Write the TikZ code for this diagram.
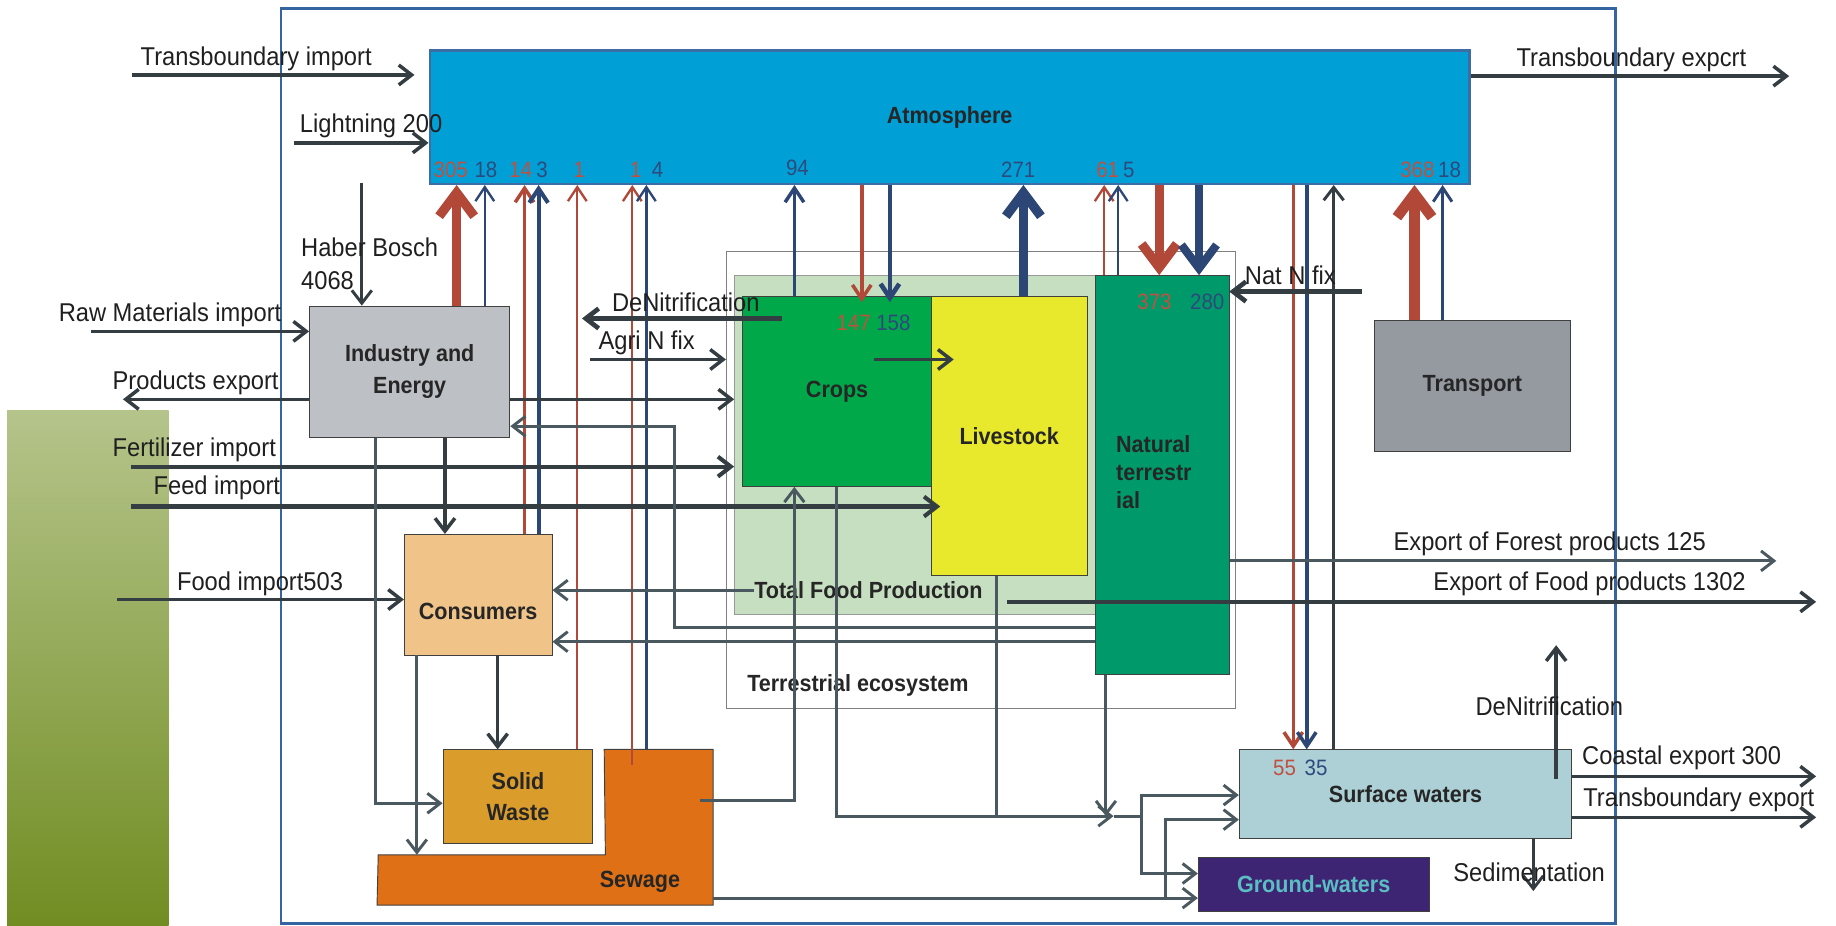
\documentclass[tikz,border=0pt]{standalone}
\usepackage{fontspec}
\setmainfont{Liberation Sans}[FakeStretch=0.92]
\usetikzlibrary{arrows.meta,positioning}

\definecolor{nred}{RGB}{178,72,56}
\definecolor{nblue}{RGB}{44,70,118}
\definecolor{ngray}{RGB}{52,62,66}
\definecolor{lgray}{RGB}{74,88,96}
\definecolor{frameblue}{RGB}{52,101,160}
\definecolor{atmfill}{RGB}{0,160,215}
\definecolor{atmline}{RGB}{60,110,165}
\definecolor{indfill}{RGB}{189,192,196}
\definecolor{consfill}{RGB}{240,195,137}
\definecolor{solidfill}{RGB}{218,157,43}
\definecolor{sewfill}{RGB}{223,112,22}
\definecolor{cropfill}{RGB}{0,168,74}
\definecolor{livefill}{RGB}{232,232,45}
\definecolor{natfill}{RGB}{0,154,106}
\definecolor{tfpfill}{RGB}{197,223,192}
\definecolor{trafill}{RGB}{149,154,161}
\definecolor{surffill}{RGB}{172,208,214}
\definecolor{gwfill}{RGB}{61,37,115}
\definecolor{gwtext}{RGB}{90,190,195}
\definecolor{numred}{RGB}{192,80,64}
\definecolor{numblue}{RGB}{46,74,125}
\definecolor{barTop}{RGB}{181,196,139}
\definecolor{barBot}{RGB}{113,141,34}

\begin{document}
\begin{tikzpicture}[x=1pt,y=-1pt,
    box/.style={draw=black!75,line width=0.8pt,inner sep=0pt,align=center,anchor=north west,
        font=\fontsize{20}{27}\selectfont\bfseries,text=black!85},
    lbl/.style={inner sep=0pt,anchor=west,font=\fontsize{22}{28}\selectfont,text=black!88},
    blbl/.style={inner sep=0pt,anchor=west,font=\fontsize{20}{24}\selectfont\bfseries,text=black!85},
    num/.style={inner sep=0pt,font=\fontsize{19}{21}\selectfont},
    flow/.style={ngray,line width=3pt,-{Straight Barb[length=11pt,width=17pt]}},
    gline/.style={lgray,line width=2.5pt},
    gflow/.style={gline,-{Straight Barb[length=11pt,width=17pt]}},
    rup/.style={nred,line width=2pt,-{Straight Barb[length=12pt,width=16pt]}},
    bup/.style={nblue,line width=2pt,-{Straight Barb[length=12pt,width=16pt]}},
    big/.style={line width=8pt,-{Straight Barb[length=20pt,width=30pt]}}]

\useasboundingbox (0,0) rectangle (1568,790);
\shade[top color=barTop,bottom color=barBot] (6,351) rectangle (144,790);
\draw[frameblue,line width=2.5pt] (240,7) rectangle (1380,788.5);

% boxes
\node[box,draw=gray,fill=white,minimum width=435pt,minimum height=391pt] (terr) at (620,214) {};
\node[box,draw=gray!80,fill=tfpfill,minimum width=308pt,minimum height=289pt] (tfp) at (627,235) {};
\node[box,fill=cropfill,minimum width=161pt,minimum height=162pt] (crops) at (634,253) {Crops};
\node[box,fill=livefill,minimum width=133pt,minimum height=238pt] (live) at (795,253) {Livestock};
\node[box,fill=natfill,minimum width=115pt,minimum height=341pt] (nat) at (935,235) {};
\node[box,fill=atmfill,draw=atmline,line width=2pt,minimum width=888pt,minimum height=114pt] (atm) at (366,42) {Atmosphere};
\node[box,fill=indfill,minimum width=171pt,minimum height=112pt] (ind) at (264,261) {Industry and\\Energy};
\node[box,fill=consfill,minimum width=126pt,minimum height=103pt,
    label={[font=\fontsize{20}{24}\selectfont\bfseries,text=black!85,yshift=-14pt]center:Consumers}] (cons) at (345,456) {};
\node[box,fill=solidfill,minimum width=128pt,minimum height=80pt] (solid) at (378,640) {Solid\\Waste};
\node[box,fill=trafill,minimum width=168pt,minimum height=112pt] (trans) at (1173,273) {Transport};
\node[box,fill=surffill,minimum width=284pt,minimum height=76pt] (surf) at (1058,640) {Surface waters};
\node[box,fill=gwfill,text=gwtext,minimum width=197pt,minimum height=46pt] (gw) at (1023,732) {Ground-waters};
\filldraw[fill=sewfill,draw=black!75,line width=0.8pt] (516,640) -- (609,640) -- (609,773) -- (322,773) -- (323,730) -- (517,730) -- cycle;

\node[blbl] (sewlbl) at (512,753) {Sewage};
\node[blbl,anchor=north west,align=left] (natlbl) at (953,372) {Natural\\terrestr\\ial};
\node[blbl] (tfplbl) at (644,504) {Total Food Production};
\node[blbl] (terrlbl) at (638,585) {Terrestrial ecosystem};

\coordinate (sewA) at (540,653);
\coordinate (sewB) at (552,640);
\coordinate (sewR) at (598,684);
\coordinate (merge) at (951,697);

% exchanges with the atmosphere
\draw[rup,big] (ind.north -| 390,0) -- (atm.south -| 390,0);
\draw[bup] (ind.north -| 414,0) -- (atm.south -| 414,0);
\draw[rup,line width=3pt] (cons.north -| 448,0) -- (atm.south -| 448,0);
\draw[bup,line width=3.5pt] (cons.north -| 460,0) -- (atm.south -| 460,0);
\draw[rup] (solid.north -| 493,0) -- (atm.south -| 493,0);
\draw[rup] (sewA) -- (atm.south -| sewA);
\draw[bup] (sewB) -- (atm.south -| sewB);
\draw[bup,line width=3pt] (crops.north -| 678.5,0) -- (atm.south -| 678.5,0);
\draw[rup,line width=3pt,shorten >=-5pt] (atm.south -| 736,0) -- (crops.north -| 736,0);
\draw[bup,line width=4pt,shorten >=-5pt] (atm.south -| 760,0) -- (crops.north -| 760,0);
\draw[bup,big] (live.north -| 874,0) -- (atm.south -| 874,0);
\draw[rup] (nat.north -| 943,0) -- (atm.south -| 943,0);
\draw[bup] (nat.north -| 955,0) -- (atm.south -| 955,0);
\draw[rup,big] (atm.south -| 990,0) -- (nat.north -| 990,0);
\draw[bup,big,line width=7pt] (atm.south -| 1024,0) -- (nat.north -| 1024,0);
\draw[rup,line width=3pt] (atm.south -| 1104.5,0) -- (surf.north -| 1104.5,0);
\draw[bup,line width=3pt] (atm.south -| 1116,0) -- (surf.north -| 1116,0);
\draw[flow,line width=2.5pt] (surf.north -| 1139,0) -- (atm.south -| 1139,0);
\draw[rup,big,line width=9pt] (trans.north -| 1208,0) -- (atm.south -| 1208,0);
\draw[bup,line width=2.5pt] (trans.north -| 1232,0) -- (atm.south -| 1232,0);

% imports and exports
\draw[flow,shorten >=12pt] (113,64) -- (atm.west |- 0,64);
\draw[flow] (atm.east |- 0,65) -- (1528,65);
\draw[flow] (251,122) -- (atm.west |- 0,122);
\draw[flow,line width=2.5pt] (309,156) -- (ind.north -| 309,0);
\draw[flow] (78,283) -- (ind.west |- 0,283);
\draw[flow] (ind.west |- 0,341) -- (105,341);
\draw[flow] (ind.east |- 0,341) -- (tfp.west |- 0,341);
\draw[flow,line width=3.5pt] (112,398.5) -- (tfp.west |- 0,398.5);
\draw[flow,line width=3.5pt,shorten >=-8pt] (112,432.6) -- (live.west |- 0,432.6);
\draw[flow] (100,512) -- (cons.west |- 0,512);
\draw[flow,line width=4pt] (668,272) -- (497,272);
\draw[flow] (504,307) -- (terr.west |- 0,307);
\draw[flow] (746,307) -- (814.5,307);
\draw[flow,line width=4pt,shorten >=-6pt] (1163,249) -- (terr.east |- 0,249);
\draw[gflow] (nat.east |- 0,479) -- (1517,479);
\draw[flow] (860,514) -- (1551,514);

% food and waste
\draw[gflow] (nat.west |- 0,536) -- (576,536) -- (576,364) -- (ind.east |- 0,364);
\draw[gflow] (tfplbl.west) -- (cons.east |- tfplbl.west);
\draw[gflow] (nat.west |- 0,548) -- (cons.east |- 0,548);
\draw[flow] (ind.south -| 380,0) -- (cons.north -| 380,0);
\draw[gflow] (ind.south -| 321,0) |- (solid.west |- 0,686);
\draw[flow] (cons.south -| 425,0) -- (solid.north -| 425,0);
\draw[gflow] (cons.south -| 356,0) -- (356,730);
\draw[gflow] (sewR) -| (crops.south -| 678.4,0);

% to the waters
\draw[gflow] (crops.south -| 714,0) |- (merge);
\draw[gline] (live.south -| 851,0) -- (851,697);
\draw[gflow] (nat.south -| 944.5,0) -- (944.5,697);
\draw[gflow] (merge) -| (975,679) -- (surf.west |- 0,679);
\draw[gflow] (merge) -| (975,746) -- (gw.west |- 0,746);
\draw[gflow] (609,767) -- (gw.west |- 0,767);
\draw[gflow] (995,767) |- (surf.west |- 0,700);
\draw[flow] (surf.east |- 0,663) -- (1551,663);
\draw[flow] (surf.east |- 0,698) -- (1551,698);
\draw[flow,line width=2.5pt] (surf.south -| 1309.5,0) -- (1309.5,761);
\draw[flow] (1329,665) -- (1329,551);

% texts
\node[lbl] (trimp) at (120,50) {Transboundary import};
\node[lbl] (trexp) at (1295,51) {Transboundary expcrt};
\node[lbl] (light) at (256,107.5) {Lightning 200};
\node[lbl,align=left] (haber) at (257,225) {Haber Bosch\\4068};
\node[lbl] (raw) at (50,269) {Raw Materials import};
\node[lbl] (prod) at (96,327) {Products export};
\node[lbl] (fert) at (96,384) {Fertilizer import};
\node[lbl] (feed) at (131,417) {Feed import};
\node[lbl] (food) at (151,499) {Food import503};
\node[lbl] (denit) at (522.5,258) {DeNitrification};
\node[lbl] (agri) at (511,293) {Agri N fix};
\node[lbl] (natfix) at (1063,235) {Nat N fix};
\node[lbl] (forexp) at (1190,464.5) {Export of Forest products 125};
\node[lbl] (foodexp) at (1224,499) {Export of Food products 1302};
\node[lbl] (wdenit) at (1260,603) {DeNitrification};
\node[lbl] (coast) at (1351,647.5) {Coastal export 300};
\node[lbl] (tbexp) at (1352,683) {Transboundary export};
\node[lbl] (sedim) at (1241,745) {Sedimentation};

% numbers
\node[num,text=numred] (n305) at (385,145) {305};
\node[num,text=numblue] (n18a) at (415,145) {18};
\node[num,text=numred] (n14) at (444.7,145) {14};
\node[num,text=numblue] (n3) at (463,145) {3};
\node[num,text=numred] (n1a) at (494.7,145) {1};
\node[num,text=numred] (n1b) at (543,145) {1};
\node[num,text=numblue] (n4) at (561.5,145) {4};
\node[num,text=numblue] (n94) at (681,143) {94};
\node[num,text=numblue] (n271) at (869.6,145) {271};
\node[num,text=numred] (n61) at (946,145) {61};
\node[num,text=numblue] (n5) at (964,145) {5};
\node[num,text=numred] (n368) at (1210.5,145) {368};
\node[num,text=numblue] (n18b) at (1238,145) {18};
\node[num,text=numred] (n147) at (729,276) {147};
\node[num,text=numblue] (n158) at (763,276) {158};
\node[num,text=numred] (n373) at (986,258) {373};
\node[num,text=numblue] (n280) at (1031,258) {280};
\node[num,text=numred] (n55) at (1097,656) {55};
\node[num,text=numblue] (n35) at (1124,656) {35};
\end{tikzpicture}
\end{document}
